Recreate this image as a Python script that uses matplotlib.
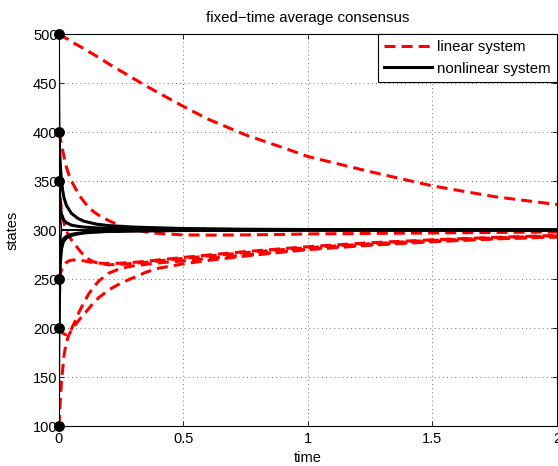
import matplotlib
matplotlib.use("Agg")
import matplotlib.pyplot as plt

plt.rcParams['font.family'] = ['Liberation Sans', 'DejaVu Sans']

# --- data ---
# linear system (red dashed), common time grid
t_lin = [0, 0.005, 0.01, 0.02, 0.03, 0.04, 0.05, 0.065, 0.08, 0.1, 0.12, 0.14, 0.16,
         0.2, 0.25, 0.3, 0.35, 0.4, 0.5, 0.6, 0.75, 0.9, 1.0, 1.25, 1.5, 1.75, 2.0]
lin_500 = [500, 499.3, 498.5, 497, 495.5, 494, 492.5, 490, 488, 485, 482, 479, 476,
           469.5, 462, 454.5, 447, 440, 426, 413, 397, 384, 375, 359.5, 345, 334, 326]
lin_400 = [400, 394, 387, 375, 364, 356, 350, 343, 336, 329, 323, 318.5, 315,
           309.5, 304, 300.5, 298, 296.5, 295, 294.8, 295, 295.5, 296, 296.5, 297, 297.5, 298]
lin_350 = [350, 333, 320, 307, 299, 294, 290, 285, 280, 274, 270, 267.5, 266,
           264.5, 265, 266, 267, 268.5, 271, 273.5, 277, 280, 282, 286, 289.5, 292, 294]
lin_250 = [250, 255, 259, 264, 267, 268.5, 269.2, 269.5, 269.3, 268.5, 267.5, 266.8, 266.2,
           265.8, 266.2, 267, 268, 269.5, 272, 274.5, 278, 281, 283, 287, 290, 292.5, 294.5]
lin_200 = [200, 198, 196, 194, 193, 195, 199, 207, 216, 226, 235, 242, 248,
           256, 261, 263.5, 265, 266.5, 268.5, 271, 274.5, 278, 280.5, 285, 288.5, 291, 293]
lin_100 = [100, 125, 145, 172, 186, 193, 198, 203, 208, 214, 220, 226, 231,
           239, 246, 251.5, 257, 261, 265.5, 269, 273.5, 277.5, 280, 284.5, 288, 291, 293]

# nonlinear system (black solid), common time grid
t_nl = [0, 0.002, 0.004, 0.006, 0.01, 0.015, 0.02, 0.03, 0.05, 0.075, 0.1,
        0.15, 0.2, 0.3, 0.5, 0.75, 1.0, 1.5, 2.0]
nl_500 = [500, 420, 350, 312, 300.5, 300.2, 300, 300, 300, 300, 300,
          300, 300, 300, 300, 300, 300, 300, 300]
nl_400 = [400, 385, 373, 364, 350, 340, 333, 325, 317, 312, 309,
          306, 304.5, 303, 301.5, 300.8, 300.5, 300.2, 300]
nl_350 = [350, 338, 329, 323, 316, 312, 310, 307.5, 305, 303.8, 303,
          302.2, 301.8, 301.3, 300.8, 300.5, 300.3, 300.1, 300]
nl_250 = [250, 266, 276, 282, 287, 290, 291.5, 293.5, 295.5, 296.7, 297.4,
          298.2, 298.7, 299.2, 299.6, 299.8, 299.9, 300, 300]
nl_200 = [200, 232, 255, 268, 280, 286, 289, 292, 294.5, 296, 297,
          298, 298.5, 299, 299.5, 299.7, 299.9, 300, 300]
nl_100 = [100, 180, 250, 288, 299.5, 299.8, 300, 300, 300, 300, 300,
          300, 300, 300, 300, 300, 300, 300, 300]

x0 = [100, 200, 250, 350, 400, 500]

# --- figure ---
fig = plt.figure(figsize=(5.58, 4.66), dpi=100)
ax = fig.add_axes([0.1057, 0.0858, 0.8925, 0.8412])

dash = (3.6, 2.0)
for i, y in enumerate([lin_500, lin_400, lin_350, lin_250, lin_200, lin_100]):
    ax.plot(t_lin, y, color='red', lw=2.2, linestyle=(0, dash),
            label='linear system' if i == 0 else None)

for i, y in enumerate([nl_400, nl_350, nl_250, nl_200]):
    ax.plot(t_nl, y, color='black', lw=2.2,
            label='nonlinear system' if i == 0 else None)
for y in [nl_500, nl_100]:
    ax.plot(t_nl, y, color='black', lw=1.2)

ax.plot([0] * len(x0), x0, 'o', color='black', markersize=6.8, clip_on=False, zorder=5)

ax.set_xlim(0, 2)
ax.set_ylim(100, 500)
ax.set_xticks([0, 0.5, 1, 1.5, 2])
ax.set_xticklabels(['0', '0.5', '1', '1.5', '2'])
ax.set_yticks(range(100, 501, 50))
ax.tick_params(direction='in', top=True, right=True, length=3.5, width=0.6,
               labelsize=10.5)
ax.tick_params(axis='x', pad=4)
ax.tick_params(axis='y', pad=1)
ax.grid(True, color='0.25', linestyle=(0, (1, 4)), lw=0.6)
for s in ax.spines.values():
    s.set_linewidth(0.8)

ax.set_title('fixed\u2212time average consensus', fontsize=10.8, pad=9)
ax.set_xlabel('time', fontsize=10.5, labelpad=4)
ax.set_ylabel('states', fontsize=10.5, labelpad=10)

leg = ax.legend(loc='upper right', borderaxespad=0, fancybox=False, framealpha=1,
                edgecolor='black', fontsize=10.8, handlelength=3.2,
                labelspacing=0.5, borderpad=0.4, handletextpad=0.35)
leg.get_frame().set_linewidth(0.8)

fig.savefig('out.png', dpi=100)
